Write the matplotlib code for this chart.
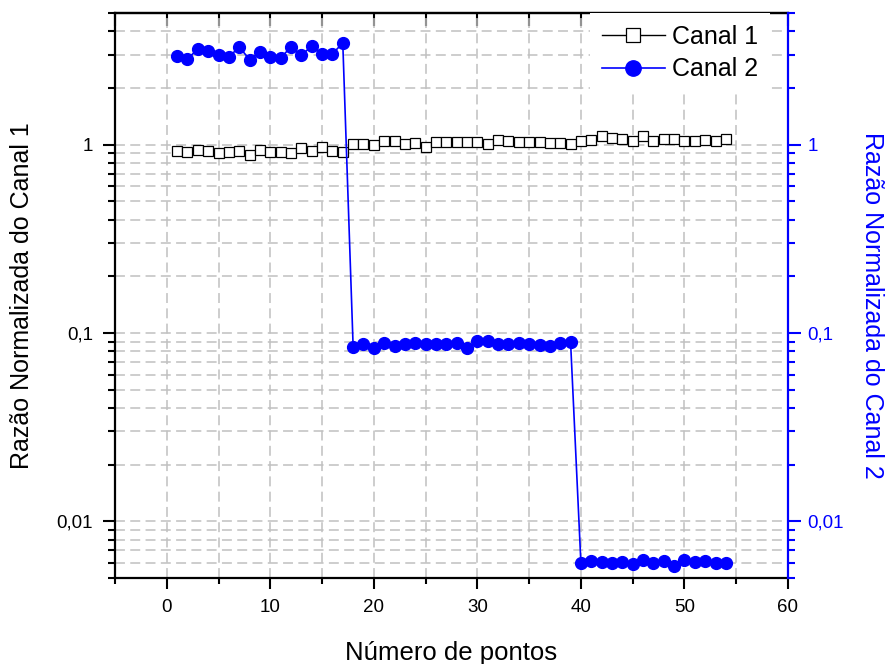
import matplotlib
matplotlib.use("Agg")
import numpy as np
import matplotlib.pyplot as plt
from matplotlib.ticker import FixedLocator, FixedFormatter, MultipleLocator, LogLocator, NullFormatter

plt.rcParams['font.family'] = ['Liberation Sans', 'DejaVu Sans']

# ---- data ----
x_canal1 = list(range(1, 55))
canal1 = [0.921, 0.914, 0.937, 0.921, 0.906, 0.918, 0.921, 0.882, 0.940, 0.918,
          0.914, 0.906, 0.964, 0.926, 0.972, 0.926, 0.914,
          1.009, 1.009, 1.000, 1.041, 1.050, 1.004, 1.021, 0.976, 1.029,
          1.029, 1.029, 1.029, 1.029, 1.009, 1.063, 1.041, 1.034, 1.034, 1.034,
          1.025, 1.016, 1.009, 1.041, 1.059, 1.117, 1.086, 1.067, 1.041, 1.112,
          1.041, 1.067, 1.072, 1.050, 1.050, 1.063, 1.041, 1.076]

x_canal2 = list(range(1, 55))
canal2 = [2.95, 2.86, 3.21, 3.14, 2.98, 2.92, 3.30, 2.83, 3.10, 2.93,
          2.88, 3.31, 2.98, 3.34, 3.03, 3.04, 3.46,
          0.0843, 0.0879, 0.0837, 0.0886, 0.0854, 0.0875, 0.0890, 0.0872, 0.0875,
          0.0875, 0.0886, 0.0830, 0.0904, 0.0908, 0.0869, 0.0879, 0.0886, 0.0869,
          0.0864, 0.0854, 0.0886, 0.0897,
          0.00597, 0.00617, 0.00609, 0.00604, 0.00607, 0.00592, 0.00625, 0.00602,
          0.00614, 0.00580, 0.00622, 0.00607, 0.00612, 0.00604, 0.00604]

series_labels = ["Canal 1", "Canal 2"]
x_ticks = [0, 10, 20, 30, 40, 50, 60]
x_tick_labels = ["0", "10", "20", "30", "40", "50", "60"]
y_ticks = [0.01, 0.1, 1]
y_tick_labels = ["0,01", "0,1", "1"]
x_label = "Número de pontos"
y_label_left = "Razão Normalizada do Canal 1"
y_label_right = "Razão Normalizada do Canal 2"

BLUE = "#0000FF"
GRID = "#c0c0c0"
W, H = 890, 664

fig = plt.figure(figsize=(W / 100, H / 100), dpi=100)
ax = fig.add_axes([115 / W, 1 - 578 / H, 673 / W, 565 / H])

ax.set_xlim(-5, 60)
ax.set_yscale('log')
ax.set_ylim(0.005, 5)

# x ticks
ax.xaxis.set_major_locator(FixedLocator(x_ticks))
ax.xaxis.set_major_formatter(FixedFormatter(x_tick_labels))
ax.xaxis.set_minor_locator(MultipleLocator(5))
ax.tick_params(axis='x', which='major', direction='out', length=8, width=1.5,
               labelsize=13.5, pad=7, top=False)
ax.tick_params(axis='x', which='minor', direction='out', length=4, width=1.5, top=False)

# y ticks (left)
ax.yaxis.set_major_locator(FixedLocator(y_ticks))
ax.yaxis.set_major_formatter(FixedFormatter(y_tick_labels))
ax.yaxis.set_minor_locator(LogLocator(base=10, subs=np.arange(2, 10)))
ax.yaxis.set_minor_formatter(NullFormatter())
ax.tick_params(axis='y', which='major', direction='out', length=9, width=1.5,
               labelsize=13.5, pad=7, right=False)
ax.tick_params(axis='y', which='minor', direction='out', length=5, width=1.5, right=False)

ax.grid(True, which='both', axis='both', color=GRID, linestyle=(0, (6.5, 3.5)), linewidth=1.1)
ax.set_axisbelow(True)

for s in ['left', 'bottom', 'top']:
    ax.spines[s].set_linewidth(1.6)
ax.spines['right'].set_visible(False)

# top axis ticks (inward)
secax = ax.secondary_xaxis('top')
secax.xaxis.set_major_locator(MultipleLocator(5))
secax.tick_params(axis='x', which='major', direction='in', length=9, width=1.5,
                  labeltop=False)
secax.spines['top'].set_linewidth(1.6)

l1, = ax.plot(x_canal1, canal1, color='black', linewidth=1.0, marker='s',
              markersize=7.5, markerfacecolor='white', markeredgecolor='black',
              markeredgewidth=0.9, label=series_labels[0])

ax2 = ax.twinx()
ax2.set_yscale('log')
ax2.set_ylim(0.005, 5)
ax2.yaxis.set_major_locator(FixedLocator(y_ticks))
ax2.yaxis.set_major_formatter(FixedFormatter(y_tick_labels))
ax2.yaxis.set_minor_locator(LogLocator(base=10, subs=np.arange(2, 10)))
ax2.yaxis.set_minor_formatter(NullFormatter())
ax2.tick_params(axis='y', which='major', direction='out', length=9, width=1.5,
                labelsize=13.5, pad=5, colors=BLUE)
ax2.tick_params(axis='y', which='minor', direction='out', length=5, width=1.5, colors=BLUE)
for s in ['left', 'bottom', 'top']:
    ax2.spines[s].set_visible(False)
ax2.spines['right'].set_color(BLUE)
ax2.spines['right'].set_linewidth(1.6)

l2, = ax2.plot(x_canal2, canal2, color=BLUE, linewidth=1.2, marker='o',
               markersize=8.5, markerfacecolor=BLUE, markeredgecolor=BLUE,
               label=series_labels[1])

leg = ax2.legend([l1, l2], series_labels, loc='upper left',
                 bbox_to_anchor=(0.706, 1.0), borderaxespad=0, borderpad=0.48,
                 fontsize=18, handlelength=2.5, handletextpad=0.28,
                 labelspacing=0.33, frameon=True, fancybox=False, markerscale=1.3)
leg.get_frame().set_facecolor('white')
leg.get_frame().set_edgecolor('none')
leg.get_frame().set_alpha(1.0)

fig.text(450.8 / W, 1 - 660 / H, x_label, ha='center', va='baseline', fontsize=18.5)
fig.text(22 / W, 1 - 296 / H, y_label_left, ha='center', va='center',
         rotation=90, fontsize=18)
fig.text(872 / W, 1 - 305 / H, y_label_right, ha='center', va='center',
         rotation=270, fontsize=18, color=BLUE)

fig.savefig("out.png", dpi=100)
